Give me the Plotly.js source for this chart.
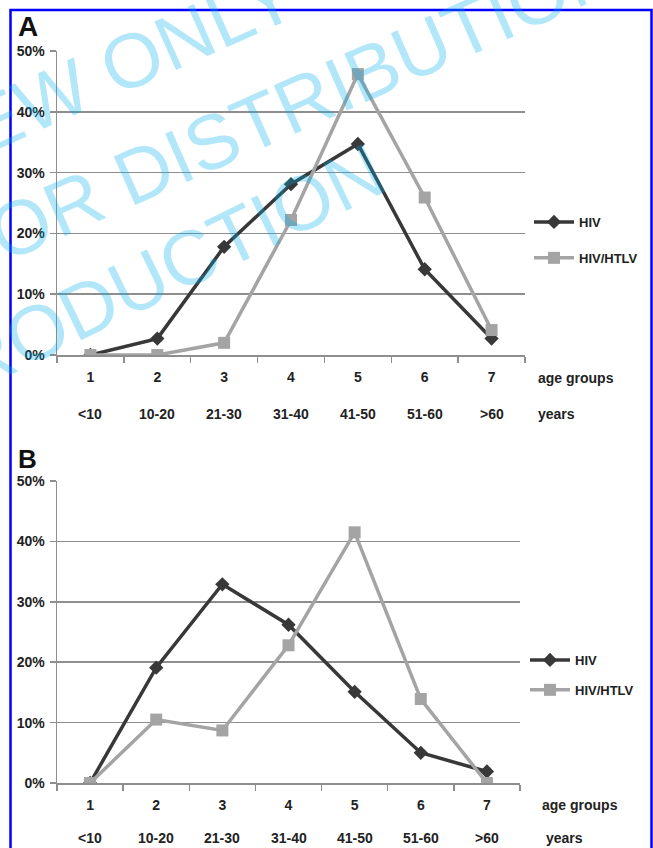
<!DOCTYPE html>
<html>
<head>
<meta charset="utf-8">
<script src="https://cdn.plot.ly/plotly-3.0.1.min.js"></script>
<style>html,body{margin:0;padding:0;background:#fff;}#chart{width:653px;height:848px;}</style>
</head>
<body>
<div id="chart"></div>
<script>
// ---- data ----
const ageGroups = ['1', '2', '3', '4', '5', '6', '7'];
const yearLabels = ['<10', '10-20', '21-30', '31-40', '41-50', '51-60', '>60'];
const seriesNames = ['HIV', 'HIV/HTLV'];
const hivA  = [0, 0.027, 0.178, 0.281, 0.347, 0.141, 0.027];
const htlvA = [0, 0.000, 0.020, 0.222, 0.462, 0.259, 0.041];
const hivB  = [0, 0.191, 0.329, 0.262, 0.151, 0.050, 0.019];
const htlvB = [0, 0.105, 0.087, 0.228, 0.415, 0.139, 0.000];
const panelLetters = ['A', 'B'];
const axisNoteTop = 'age groups';
const axisNoteBottom = 'years';
const watermark = ['VIEW ONLY', 'FOR DISTRIBUTION', 'REPRODUCTION'];

// ---- styling ----
const W = 653, H = 848;
const DARK = '#383838', LIGHT = '#a4a4a4', GRID = '#8e8e8e', TXT = '#222';
const FONT = 'Liberation Sans, Arial, sans-serif';
const FS = 14;
const esc = s => s.replace(/</g, '&lt;').replace(/>/g, '&gt;');
const px = v => v / W;
const py = v => (H - v) / H;

function mkTraces(hiv, htlv, xa, ya, leg) {
  return [
    {x: ageGroups, y: hiv, name: seriesNames[0], xaxis: xa, yaxis: ya, legend: leg,
     legendgroup: leg + 'a', type: 'scatter', mode: 'lines+markers',
     line: {color: DARK, width: 3.5}, marker: {symbol: 'diamond', size: 11, color: DARK}},
    {x: ageGroups, y: htlv, name: seriesNames[1], xaxis: xa, yaxis: ya, legend: leg,
     legendgroup: leg + 'b', type: 'scatter', mode: 'lines+markers',
     line: {color: LIGHT, width: 3.5}, marker: {symbol: 'square', size: 12, color: LIGHT}}
  ];
}
const data = [...mkTraces(hivA, htlvA, 'x', 'y', 'legend'), ...mkTraces(hivB, htlvB, 'x2', 'y2', 'legend2')];

function xax(dom, anchor) {
  return {domain: dom, anchor: anchor, type: 'category', range: [-0.5, 6.5],
    tickson: 'boundaries', ticks: 'outside', ticklen: 6, tickwidth: 1.5, tickcolor: GRID,
    showline: true, linecolor: GRID, linewidth: 1.5, showgrid: false, zeroline: false,
    tickfont: {family: FONT, size: FS, color: TXT, weight: 'bold'}, ticklabelstandoff: 9, fixedrange: true};
}
function yax(dom, anchor) {
  return {domain: dom, anchor: anchor, range: [0, 0.5], dtick: 0.1, tickformat: '.0%',
    ticks: 'outside', ticklen: 6, tickwidth: 1.5, tickcolor: GRID,
    showline: true, linecolor: GRID, linewidth: 1.5, showgrid: true, gridcolor: GRID, gridwidth: 1.5,
    zeroline: false, tickfont: {family: FONT, size: FS, color: TXT, weight: 'bold'},
    ticklabelstandoff: 2, fixedrange: true};
}

const panels = [
  {xa: 'x', ya: 'y', xd: [px(57), px(525)], yd: [py(355), py(51)], letterY: 27, letterFS: 28, tickRow: 378, yearRow: 414, noteX: 536, noteX2: 536, lx: 529, ly: 207, gap: 16},
  {xa: 'x2', ya: 'y2', xd: [px(57), px(520)], yd: [py(783), py(481)], letterY: 459, letterFS: 26, tickRow: 805, yearRow: 838, noteX: 540, noteX2: 544, lx: 525, ly: 645, gap: 10}
];

const annotations = [];
panels.forEach((p, i) => {
  annotations.push({text: '<b>' + panelLetters[i] + '</b>', xref: 'paper', yref: 'paper',
    x: px(16), y: py(p.letterY), xanchor: 'left', yanchor: 'middle', showarrow: false,
    font: {family: FONT, size: p.letterFS, color: '#111'}});
  yearLabels.forEach((lbl, k) => annotations.push({text: '<b>' + esc(lbl) + '</b>', xref: p.xa, yref: 'paper',
    x: k, y: py(p.yearRow), xanchor: 'center', yanchor: 'middle', showarrow: false,
    font: {family: FONT, size: FS, color: TXT}}));
  annotations.push({text: '<b>' + axisNoteTop + '</b>', xref: 'paper', yref: 'paper', x: px(p.noteX), y: py(p.tickRow),
    xanchor: 'left', yanchor: 'middle', showarrow: false, font: {family: FONT, size: FS, color: TXT}});
  annotations.push({text: '<b>' + axisNoteBottom + '</b>', xref: 'paper', yref: 'paper', x: px(p.noteX2), y: py(p.yearRow),
    xanchor: 'left', yanchor: 'middle', showarrow: false, font: {family: FONT, size: FS, color: TXT}});
});
const wmPos = [[98, 75], [282, 110], [98, 302]];
const wmAng = [-24, -24, -26];
watermark.forEach((t, i) => annotations.push({text: t, xref: 'paper', yref: 'paper', x: px(wmPos[i][0]), y: py(wmPos[i][1]),
  xanchor: 'center', yanchor: 'middle', textangle: wmAng[i], showarrow: false,
  font: {family: FONT, size: 77, color: 'rgba(0,175,240,0.3)'}}));

const legendBase = p => ({x: px(p.lx), y: py(p.ly), xanchor: 'left', yanchor: 'top', bgcolor: 'rgba(0,0,0,0)',
  font: {family: FONT, size: FS - 1, color: TXT, weight: 'bold'}, tracegroupgap: p.gap, itemwidth: 40});

const layout = {
  width: W, height: H, margin: {l: 0, r: 0, t: 0, b: 0, pad: 0},
  paper_bgcolor: '#fff', plot_bgcolor: '#fff', showlegend: true,
  xaxis: xax(panels[0].xd, 'y'), yaxis: yax(panels[0].yd, 'x'),
  xaxis2: xax(panels[1].xd, 'y2'), yaxis2: yax(panels[1].yd, 'x2'),
  legend: legendBase(panels[0]), legend2: legendBase(panels[1]),
  annotations: annotations,
  shapes: [{type: 'rect', xref: 'paper', yref: 'paper', x0: px(10.5), x1: px(651.5), y0: -0.02, y1: py(10),
    line: {color: '#0000ff', width: 2.5}, fillcolor: 'rgba(0,0,0,0)', layer: 'above'}]
};
Plotly.newPlot('chart', data, layout, {displayModeBar: false, staticPlot: true});
</script>
</body>
</html>
